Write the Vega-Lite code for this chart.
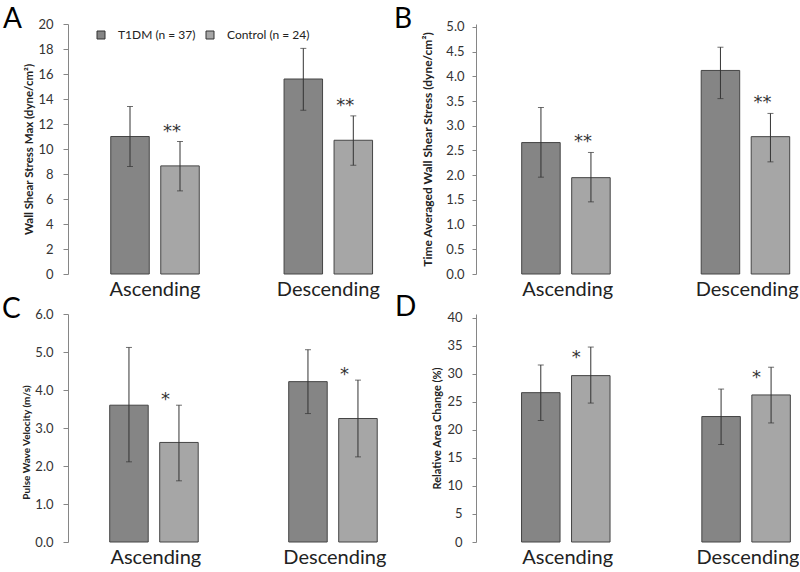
{
  "$schema": "https://vega.github.io/schema/vega-lite/v6.json",
  "padding": {"left": 2, "top": 5, "right": 0, "bottom": 0},
  "columns": 2,
  "align": "each",
  "spacing": {"row": -6, "column": 0},
  "datasets": {
    "A": [
      {"region": "Ascending", "group": "T1DM (n = 37)", "mean": 11.0, "lo": 8.6, "hi": 13.4, "sig": ""},
      {"region": "Ascending", "group": "Control  (n = 24)", "mean": 8.65, "lo": 6.65, "hi": 10.6, "sig": "**"},
      {"region": "Descending", "group": "T1DM (n = 37)", "mean": 15.6, "lo": 13.1, "hi": 18.05, "sig": ""},
      {"region": "Descending", "group": "Control  (n = 24)", "mean": 10.7, "lo": 8.7, "hi": 12.65, "sig": "**"}
    ],
    "B": [
      {"region": "Ascending", "group": "T1DM (n = 37)", "mean": 2.66, "lo": 1.96, "hi": 3.37, "sig": ""},
      {"region": "Ascending", "group": "Control  (n = 24)", "mean": 1.95, "lo": 1.46, "hi": 2.46, "sig": "**"},
      {"region": "Descending", "group": "T1DM (n = 37)", "mean": 4.12, "lo": 3.55, "hi": 4.59, "sig": ""},
      {"region": "Descending", "group": "Control  (n = 24)", "mean": 2.78, "lo": 2.27, "hi": 3.25, "sig": "**"}
    ],
    "C": [
      {"region": "Ascending", "group": "T1DM (n = 37)", "mean": 3.6, "lo": 2.11, "hi": 5.12, "sig": ""},
      {"region": "Ascending", "group": "Control  (n = 24)", "mean": 2.62, "lo": 1.61, "hi": 3.6, "sig": "*"},
      {"region": "Descending", "group": "T1DM (n = 37)", "mean": 4.22, "lo": 3.38, "hi": 5.06, "sig": ""},
      {"region": "Descending", "group": "Control  (n = 24)", "mean": 3.25, "lo": 2.24, "hi": 4.26, "sig": "*"}
    ],
    "D": [
      {"region": "Ascending", "group": "T1DM (n = 37)", "mean": 26.66, "lo": 21.7, "hi": 31.6, "sig": ""},
      {"region": "Ascending", "group": "Control  (n = 24)", "mean": 29.7, "lo": 24.8, "hi": 34.8, "sig": "*"},
      {"region": "Descending", "group": "T1DM (n = 37)", "mean": 22.4, "lo": 17.4, "hi": 27.3, "sig": ""},
      {"region": "Descending", "group": "Control  (n = 24)", "mean": 26.25, "lo": 21.25, "hi": 31.2, "sig": "*"}
    ]
  },
  "concat": [
    {
      "width": 326, "height": 250,
      "data": {"name": "A"},
      "title": {"text": "A", "anchor": "start", "frame": "group", "dx": -65, "offset": -16},
      "encoding": {
        "x": {"field": "region", "type": "nominal", "sort": ["Ascending", "Descending"], "title": null,
              "scale": {"paddingInner": 0.4893, "paddingOuter": 0.1852, "align": 0.666}},
        "xOffset": {"field": "group", "type": "nominal", "sort": ["T1DM (n = 37)", "Control  (n = 24)"],
              "scale": {"paddingInner": 0.23, "paddingOuter": 0}}
      },
      "layer": [
        {"mark": {"type": "bar", "stroke": "#454545", "strokeWidth": 1},
         "encoding": {
           "y": {"field": "mean", "type": "quantitative", "title": "Wall Shear Stress Max (dyne/cm²)",
                 "scale": {"domain": [0, 20], "nice": false},
                 "axis": {"values": [0, 2, 4, 6, 8, 10, 12, 14, 16, 18, 20], "format": "d", "tickSize": 5, "labelPadding": 10, "minExtent": 29, "maxExtent": 29, "titlePadding": 5, "titleFontSize": 11.5}},
           "color": {"field": "group", "type": "nominal", "sort": ["T1DM (n = 37)", "Control  (n = 24)"],
                     "scale": {"range": ["#858585", "#a6a6a6"]},
                     "legend": {"orient": "none", "legendX": 27, "legendY": 5}}
         }},
        {"mark": {"type": "rule", "color": "#333333", "strokeWidth": 1},
         "encoding": {"y": {"field": "lo", "type": "quantitative", "title": "Wall Shear Stress Max (dyne/cm²)",
                 "axis": {"values": [0, 2, 4, 6, 8, 10, 12, 14, 16, 18, 20], "format": "d", "tickSize": 5, "labelPadding": 10, "minExtent": 29, "maxExtent": 29, "titlePadding": 5, "titleFontSize": 11.5}}, "y2": {"field": "hi"}}},
        {"mark": {"type": "tick", "color": "#333333", "thickness": 1, "size": 6},
         "encoding": {"y": {"field": "lo", "type": "quantitative", "title": "Wall Shear Stress Max (dyne/cm²)",
                 "axis": {"values": [0, 2, 4, 6, 8, 10, 12, 14, 16, 18, 20], "format": "d", "tickSize": 5, "labelPadding": 10, "minExtent": 29, "maxExtent": 29, "titlePadding": 5, "titleFontSize": 11.5}}}},
        {"mark": {"type": "tick", "color": "#333333", "thickness": 1, "size": 6},
         "encoding": {"y": {"field": "hi", "type": "quantitative", "title": "Wall Shear Stress Max (dyne/cm²)",
                 "axis": {"values": [0, 2, 4, 6, 8, 10, 12, 14, 16, 18, 20], "format": "d", "tickSize": 5, "labelPadding": 10, "minExtent": 29, "maxExtent": 29, "titlePadding": 5, "titleFontSize": 11.5}}}},
        {"mark": {"type": "text", "dx": -8, "dy": -10, "fontSize": 18, "font": "DejaVu Sans", "baseline": "middle", "color": "#333333"},
         "encoding": {"y": {"field": "hi", "type": "quantitative", "title": "Wall Shear Stress Max (dyne/cm²)",
                 "axis": {"values": [0, 2, 4, 6, 8, 10, 12, 14, 16, 18, 20], "format": "d", "tickSize": 5, "labelPadding": 10, "minExtent": 29, "maxExtent": 29, "titlePadding": 5, "titleFontSize": 11.5}}, "text": {"field": "sig"}}}
      ]
    },
    {
      "width": 320, "height": 250,
      "data": {"name": "B"},
      "title": {"text": "B", "anchor": "start", "frame": "group", "dx": -82, "offset": -13},
      "encoding": {
        "x": {"field": "region", "type": "nominal", "sort": ["Ascending", "Descending"], "title": null,
              "scale": {"paddingInner": 0.4875, "paddingOuter": 0.1351, "align": 0.942}},
        "xOffset": {"field": "group", "type": "nominal", "sort": ["T1DM (n = 37)", "Control  (n = 24)"],
              "scale": {"paddingInner": 0.196, "paddingOuter": 0}}
      },
      "layer": [
        {"mark": {"type": "bar", "stroke": "#454545", "strokeWidth": 1},
         "encoding": {
           "y": {"field": "mean", "type": "quantitative", "title": "Time Averaged Wall Shear Stress (dyne/cm²)",
                 "scale": {"domain": [0, 5.06], "nice": false},
                 "axis": {"values": [0, 0.5, 1, 1.5, 2, 2.5, 3, 3.5, 4, 4.5, 5], "format": ".1f", "tickSize": 4, "labelPadding": 8, "minExtent": 32, "maxExtent": 32, "titlePadding": 10}},
           "color": {"field": "group", "type": "nominal", "sort": ["T1DM (n = 37)", "Control  (n = 24)"],
                     "scale": {"range": ["#858585", "#a6a6a6"]},
                     "legend": {"orient": "none", "legendX": 30, "legendY": 5}}
         }},
        {"mark": {"type": "rule", "color": "#333333", "strokeWidth": 1},
         "encoding": {"y": {"field": "lo", "type": "quantitative", "title": "Time Averaged Wall Shear Stress (dyne/cm²)",
                 "axis": {"values": [0, 0.5, 1, 1.5, 2, 2.5, 3, 3.5, 4, 4.5, 5], "format": ".1f", "tickSize": 4, "labelPadding": 8, "minExtent": 32, "maxExtent": 32, "titlePadding": 10}}, "y2": {"field": "hi"}}},
        {"mark": {"type": "tick", "color": "#333333", "thickness": 1, "size": 6},
         "encoding": {"y": {"field": "lo", "type": "quantitative", "title": "Time Averaged Wall Shear Stress (dyne/cm²)",
                 "axis": {"values": [0, 0.5, 1, 1.5, 2, 2.5, 3, 3.5, 4, 4.5, 5], "format": ".1f", "tickSize": 4, "labelPadding": 8, "minExtent": 32, "maxExtent": 32, "titlePadding": 10}}}},
        {"mark": {"type": "tick", "color": "#333333", "thickness": 1, "size": 6},
         "encoding": {"y": {"field": "hi", "type": "quantitative", "title": "Time Averaged Wall Shear Stress (dyne/cm²)",
                 "axis": {"values": [0, 0.5, 1, 1.5, 2, 2.5, 3, 3.5, 4, 4.5, 5], "format": ".1f", "tickSize": 4, "labelPadding": 8, "minExtent": 32, "maxExtent": 32, "titlePadding": 10}}}},
        {"mark": {"type": "text", "dx": -8, "dy": -10, "fontSize": 18, "font": "DejaVu Sans", "baseline": "middle", "color": "#333333"},
         "encoding": {"y": {"field": "hi", "type": "quantitative", "title": "Time Averaged Wall Shear Stress (dyne/cm²)",
                 "axis": {"values": [0, 0.5, 1, 1.5, 2, 2.5, 3, 3.5, 4, 4.5, 5], "format": ".1f", "tickSize": 4, "labelPadding": 8, "minExtent": 32, "maxExtent": 32, "titlePadding": 10}}, "text": {"field": "sig"}}}
      ]
    },
    {
      "width": 326, "height": 228,
      "data": {"name": "C"},
      "title": {"text": "C", "anchor": "start", "frame": "group", "dx": -66, "offset": -16},
      "encoding": {
        "x": {"field": "region", "type": "nominal", "sort": ["Ascending", "Descending"], "title": null,
              "scale": {"paddingInner": 0.485, "paddingOuter": 0.1531, "align": 0.761}},
        "xOffset": {"field": "group", "type": "nominal", "sort": ["T1DM (n = 37)", "Control  (n = 24)"],
              "scale": {"paddingInner": 0.21, "paddingOuter": 0}}
      },
      "layer": [
        {"mark": {"type": "bar", "stroke": "#454545", "strokeWidth": 1},
         "encoding": {
           "y": {"field": "mean", "type": "quantitative", "title": "Pulse Wave Velocity (m/s)",
                 "scale": {"domain": [0, 6], "nice": false},
                 "axis": {"values": [0, 1, 2, 3, 4, 5, 6], "format": ".1f", "tickSize": 5, "labelPadding": 10, "minExtent": 32, "maxExtent": 32, "titlePadding": 5, "titleY": 128, "titleFontSize": 10}},
           "color": {"field": "group", "type": "nominal", "sort": ["T1DM (n = 37)", "Control  (n = 24)"],
                     "scale": {"range": ["#858585", "#a6a6a6"]},
                     "legend": {"orient": "none", "legendX": 29, "legendY": 11.5}}
         }},
        {"mark": {"type": "rule", "color": "#333333", "strokeWidth": 1},
         "encoding": {"y": {"field": "lo", "type": "quantitative", "title": "Pulse Wave Velocity (m/s)",
                 "axis": {"values": [0, 1, 2, 3, 4, 5, 6], "format": ".1f", "tickSize": 5, "labelPadding": 10, "minExtent": 32, "maxExtent": 32, "titlePadding": 5, "titleY": 128, "titleFontSize": 10}}, "y2": {"field": "hi"}}},
        {"mark": {"type": "tick", "color": "#333333", "thickness": 1, "size": 6},
         "encoding": {"y": {"field": "lo", "type": "quantitative", "title": "Pulse Wave Velocity (m/s)",
                 "axis": {"values": [0, 1, 2, 3, 4, 5, 6], "format": ".1f", "tickSize": 5, "labelPadding": 10, "minExtent": 32, "maxExtent": 32, "titlePadding": 5, "titleY": 128, "titleFontSize": 10}}}},
        {"mark": {"type": "tick", "color": "#333333", "thickness": 1, "size": 6},
         "encoding": {"y": {"field": "hi", "type": "quantitative", "title": "Pulse Wave Velocity (m/s)",
                 "axis": {"values": [0, 1, 2, 3, 4, 5, 6], "format": ".1f", "tickSize": 5, "labelPadding": 10, "minExtent": 32, "maxExtent": 32, "titlePadding": 5, "titleY": 128, "titleFontSize": 10}}}},
        {"mark": {"type": "text", "dx": -13.5, "dy": -5, "fontSize": 18, "font": "DejaVu Sans", "baseline": "middle", "color": "#333333"},
         "encoding": {"y": {"field": "hi", "type": "quantitative", "title": "Pulse Wave Velocity (m/s)",
                 "axis": {"values": [0, 1, 2, 3, 4, 5, 6], "format": ".1f", "tickSize": 5, "labelPadding": 10, "minExtent": 32, "maxExtent": 32, "titlePadding": 5, "titleY": 128, "titleFontSize": 10}}, "text": {"field": "sig"}}}
      ]
    },
    {
      "width": 320, "height": 228,
      "data": {"name": "D"},
      "title": {"text": "D", "anchor": "start", "frame": "group", "dx": -81, "offset": -10},
      "encoding": {
        "x": {"field": "region", "type": "nominal", "sort": ["Ascending", "Descending"], "title": null,
              "scale": {"paddingInner": 0.488, "paddingOuter": 0.1314, "align": 0.961}},
        "xOffset": {"field": "group", "type": "nominal", "sort": ["T1DM (n = 37)", "Control  (n = 24)"],
              "scale": {"paddingInner": 0.19, "paddingOuter": 0}}
      },
      "layer": [
        {"mark": {"type": "bar", "stroke": "#454545", "strokeWidth": 1},
         "encoding": {
           "y": {"field": "mean", "type": "quantitative", "title": "Relative Area Change (%)",
                 "scale": {"domain": [0, 40.7], "nice": false},
                 "axis": {"values": [0, 5, 10, 15, 20, 25, 30, 35, 40], "format": "d", "tickSize": 4, "labelPadding": 10, "minExtent": 31, "maxExtent": 31, "titlePadding": 3, "titleFontSize": 11}},
           "color": {"field": "group", "type": "nominal", "sort": ["T1DM (n = 37)", "Control  (n = 24)"],
                     "scale": {"range": ["#858585", "#a6a6a6"]},
                     "legend": {"orient": "none", "legendX": 31, "legendY": 11.5}}
         }},
        {"mark": {"type": "rule", "color": "#333333", "strokeWidth": 1},
         "encoding": {"y": {"field": "lo", "type": "quantitative", "title": "Relative Area Change (%)",
                 "axis": {"values": [0, 5, 10, 15, 20, 25, 30, 35, 40], "format": "d", "tickSize": 4, "labelPadding": 10, "minExtent": 31, "maxExtent": 31, "titlePadding": 3, "titleFontSize": 11}}, "y2": {"field": "hi"}}},
        {"mark": {"type": "tick", "color": "#333333", "thickness": 1, "size": 6},
         "encoding": {"y": {"field": "lo", "type": "quantitative", "title": "Relative Area Change (%)",
                 "axis": {"values": [0, 5, 10, 15, 20, 25, 30, 35, 40], "format": "d", "tickSize": 4, "labelPadding": 10, "minExtent": 31, "maxExtent": 31, "titlePadding": 3, "titleFontSize": 11}}}},
        {"mark": {"type": "tick", "color": "#333333", "thickness": 1, "size": 6},
         "encoding": {"y": {"field": "hi", "type": "quantitative", "title": "Relative Area Change (%)",
                 "axis": {"values": [0, 5, 10, 15, 20, 25, 30, 35, 40], "format": "d", "tickSize": 4, "labelPadding": 10, "minExtent": 31, "maxExtent": 31, "titlePadding": 3, "titleFontSize": 11}}}},
        {"mark": {"type": "text", "dx": -14.5, "dy": 11, "fontSize": 18, "font": "DejaVu Sans", "baseline": "middle", "color": "#333333"},
         "encoding": {"y": {"field": "hi", "type": "quantitative", "title": "Relative Area Change (%)",
                 "axis": {"values": [0, 5, 10, 15, 20, 25, 30, 35, 40], "format": "d", "tickSize": 4, "labelPadding": 10, "minExtent": 31, "maxExtent": 31, "titlePadding": 3, "titleFontSize": 11}}, "text": {"field": "sig"}}}
      ]
    }
  ],
  "config": {
    "font": "Lato",
    "view": {"stroke": null},
    "title": {"fontSize": 28, "fontWeight": "normal", "font": "Lato", "color": "#000000"},
    "axisY": {"grid": false, "labelOverlap": false, "domainColor": "#868686", "tickColor": "#868686", "labelFont": "Lato", "labelFontSize": 13, "labelColor": "#333333", "titleFont": "Lato", "titleFontSize": 12, "titleFontWeight": "bold", "titleColor": "#222222"},
    "axisX": {"grid": false, "domain": false, "ticks": false, "tickSize": 0, "labelAngle": 0, "labelPadding": 5, "labelFont": "Lato", "labelFontSize": 20, "labelColor": "#222222"},
    "legend": {"direction": "horizontal", "title": null, "symbolType": "square", "symbolSize": 64, "symbolStrokeColor": "#333333", "symbolStrokeWidth": 1, "symbolOpacity": 1, "labelFont": "Lato", "labelFontSize": 12, "labelColor": "#222222", "labelOffset": 11, "columnPadding": 8, "padding": 0}
  }
}
